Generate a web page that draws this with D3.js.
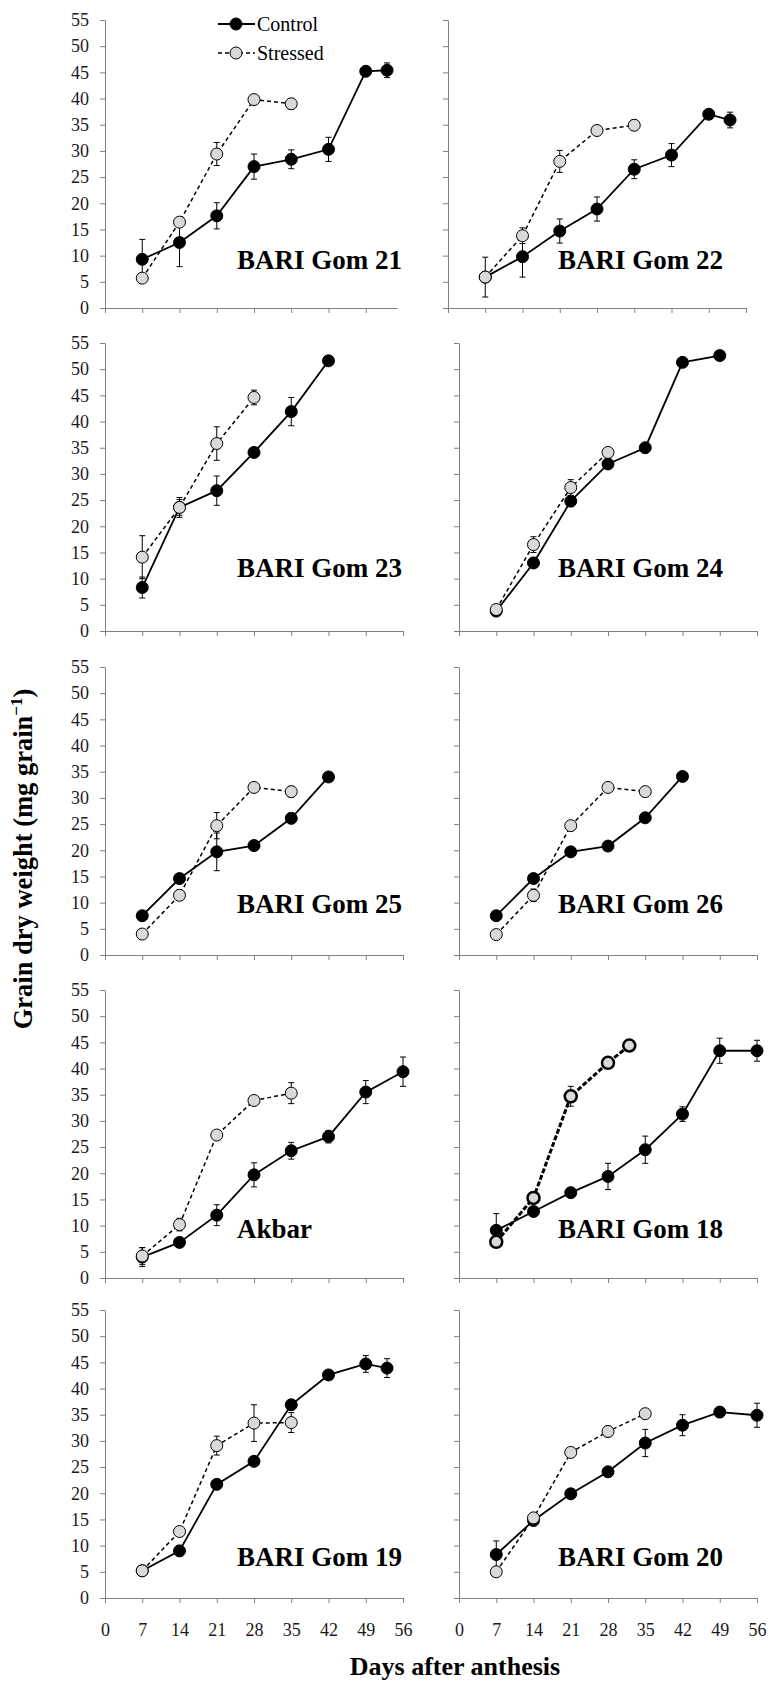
<!DOCTYPE html>
<html><head><meta charset="utf-8">
<script src="https://cdn.jsdelivr.net/npm/d3@7"></script>
<style>body{margin:0;background:#fff}svg{display:block}</style>
</head><body>
<svg id="chart" width="769" height="1682"></svg>
<script>
// ---------- DATA ----------
const panelNames = ["BARI Gom 21","BARI Gom 22","BARI Gom 23","BARI Gom 24","BARI Gom 25","BARI Gom 26","Akbar","BARI Gom 18","BARI Gom 19","BARI Gom 20"];
const xTicks = [0,7,14,21,28,35,42,49,56];
const yTicks = [0,5,10,15,20,25,30,35,40,45,50,55];
const seriesNames = ["Control","Stressed"];

const controlDays = [
  [7,14,21,28,35,42,49,53],
  [7,14,21,28,35,42,49,53],
  [7,14,21,28,35,42],
  [7,14,21,28,35,42,49],
  [7,14,21,28,35,42],
  [7,14,21,28,35,42],
  [7,14,21,28,35,42,49,56],
  [7,14,21,28,35,42,49,56],
  [7,14,21,28,35,42,49,53],
  [7,14,21,28,35,42,49,56]
];
const controlValues = [
  [9.3,12.5,17.6,27.0,28.4,30.3,45.2,45.4],
  [5.9,9.8,14.7,18.9,26.5,29.2,37.0,35.9],
  [8.3,23.6,26.8,34.1,41.9,51.6],
  [3.8,13.0,24.8,31.9,35.0,51.3,52.6],
  [7.5,14.6,19.7,20.9,26.1,34.0],
  [7.5,14.6,19.7,20.8,26.2,34.1],
  [4.0,6.8,12.0,19.7,24.3,27.0,35.5,39.4],
  [9.1,12.7,16.3,19.4,24.5,31.3,43.4,43.4],
  [5.2,9.0,21.7,26.1,36.9,42.6,44.7,43.9],
  [8.3,14.8,19.9,24.1,29.6,33.0,35.5,34.9]
];
const controlErrors = [
  [3.8,4.6,2.5,2.4,1.8,2.3,0.4,1.4],
  [3.8,3.9,2.3,2.3,1.8,2.2,0.5,1.5],
  [2.0,1.5,2.8,0.5,2.7,0.8],
  [0.5,0.8,1.0,0.5,0.5,0.5,0.5],
  [0.3,0.5,3.6,0.5,1.0,0.3],
  [0.3,0.3,0.3,0.3,0.3,0.3],
  [1.8,0.8,2.0,2.3,1.6,1.2,2.2,2.8],
  [3.2,0.6,0.5,2.5,2.6,1.4,2.4,2.0],
  [0.3,1.0,0.5,0.5,0.5,0.8,1.6,1.8],
  [2.6,1.0,0.4,0.4,2.6,2.0,1.0,2.3]
];
const stressedDays = [
  [7,14,21,28,35],
  [7,14,21,28,35],
  [7,14,21,28],
  [7,14,21,28],
  [7,14,21,28,35],
  [7,14,21,28,35],
  [7,14,21,28,35],
  [7,14,21,28,32],
  [7,14,21,28,35],
  [7,14,21,28,35]
];
const stressedValues = [
  [5.7,16.4,29.4,39.8,39.0],
  [5.9,13.8,28.0,33.9,34.9],
  [14.1,23.6,35.8,44.6],
  [4.1,16.5,27.4,34.1],
  [4.0,11.4,24.7,32.0,31.2],
  [3.9,11.4,24.7,32.0,31.2],
  [4.2,10.2,27.3,33.9,35.3],
  [6.9,15.3,34.7,41.1,44.4],
  [5.2,12.7,29.1,33.4,33.5],
  [5.0,15.3,27.8,31.8,35.2]
];
const stressedErrors = [
  [0.6,0.8,2.2,0.6,1.0],
  [1.0,1.5,2.1,0.8,1.0],
  [4.1,1.9,3.2,1.4],
  [0.8,1.5,1.5,0.5],
  [0.4,1.0,2.5,0.4,1.0],
  [0.3,1.2,0.3,0.3,0.3],
  [1.6,1.2,0.8,0.5,2.0],
  [0.5,0.8,1.9,0.6,0.6],
  [0.3,0.5,1.8,3.5,1.9],
  [0.3,0.5,0.4,1.0,0.4]
];
// title vertical position (in y units) per row
const titleLevel = [7.4,10.4,8.0,7.7,6.1];

// ---------- LAYOUT / STYLE ----------
const rowTop = [20,343,667,990,1310];
const plotH = 288, plotW = 298;
const colLeftFirstRow = [105,448];
const colLeft = [105,459];
const titleX = [237,558];
const serif = "'Liberation Serif','Times New Roman',serif";
const axisColor = "#808080";
const styles = {
  Control: {dash:null, lw:1.8, fill:"#000", stroke:"#000", sw:1},
  Stressed: {dash:"4,3", lw:1.5, fill:"#d9d9d9", stroke:"#000", sw:1}
};
const boldStressed = {"BARI Gom 18": true};
const R = 6;

const svg = d3.select("#chart");
svg.append("rect").attr("width",769).attr("height",1682).attr("fill","#fff");

function drawSeries(g, x, y, days, vals, errs, st) {
  const pts = days.map((d,k)=>({d, v: vals[k], e: errs[k]}));
  const line = d3.line().x(p=>x(p.d)).y(p=>y(p.v));
  g.append("path").datum(pts).attr("d", line).attr("fill","none")
    .attr("stroke","#000").attr("stroke-width", st.lw)
    .attr("stroke-dasharray", st.dash);
  const eb = g.append("g").attr("stroke","#000").attr("stroke-width",1);
  pts.forEach(p => {
    if (!p.e) return;
    const cx = x(p.d), y1 = y(p.v + p.e), y2 = y(p.v - p.e);
    eb.append("line").attr("x1",cx).attr("x2",cx).attr("y1",y1).attr("y2",y2);
    eb.append("line").attr("x1",cx-3).attr("x2",cx+3).attr("y1",y1).attr("y2",y1);
    eb.append("line").attr("x1",cx-3).attr("x2",cx+3).attr("y1",y2).attr("y2",y2);
  });
  g.append("g").selectAll("circle").data(pts).join("circle")
    .attr("cx", p=>x(p.d)).attr("cy", p=>y(p.v)).attr("r", R)
    .attr("fill", st.fill).attr("stroke", st.stroke).attr("stroke-width", st.sw);
}

panelNames.forEach((name, i) => {
  const row = Math.floor(i/2), col = i % 2;
  const left = row === 0 ? colLeftFirstRow[col] : colLeft[col];
  const top = rowTop[row];
  const x = d3.scaleLinear().domain([0,56]).range([0,plotW]);
  const y = d3.scaleLinear().domain([0,55]).range([plotH,0]);
  const g = svg.append("g").attr("transform", `translate(${left},${top})`);

  // first panel's x axis is a little shorter (ends before 56)
  const shortAxis = (i === 0);
  const xa_scale = shortAxis ? d3.scaleLinear().domain([0,54.9]).range([0, x(54.9)]) : x;
  const xa_ticks = shortAxis ? xTicks.filter(t => t <= 54.9) : xTicks;

  const yAxis = d3.axisLeft(y).tickValues(yTicks).tickSize(5).tickSizeOuter(0).tickPadding(11);
  if (col === 1) yAxis.tickFormat(() => "");
  const xAxis = d3.axisBottom(xa_scale).tickValues(xa_ticks).tickSize(5).tickSizeOuter(0).tickPadding(20);
  if (row !== 4) xAxis.tickFormat(() => "");

  const ya = g.append("g").call(yAxis);
  const xa = g.append("g").attr("transform", `translate(0,${plotH})`).call(xAxis);
  [ya, xa].forEach(a => {
    a.select(".domain").attr("stroke", axisColor);
    a.selectAll(".tick line").attr("stroke", axisColor);
    a.selectAll("text").attr("font-family", serif).attr("font-size", 18).attr("fill", "#1a1a1a");
  });

  // series
  drawSeries(g, x, y, controlDays[i], controlValues[i], controlErrors[i], styles.Control);
  const sst = boldStressed[name]
    ? Object.assign({}, styles.Stressed, {lw: 3, sw: 2.5, dash: "5,2"})
    : styles.Stressed;
  drawSeries(g, x, y, stressedDays[i], stressedValues[i], stressedErrors[i], sst);

  // title
  g.append("text").attr("x", titleX[col] - left).attr("y", y(titleLevel[row]))
    .attr("font-family", serif).attr("font-weight", "bold").attr("font-size", 27)
    .attr("fill", "#000").text(name);

  // legend in first panel
  if (i === 0) {
    const lg = svg.append("g");
    seriesNames.forEach((s, k) => {
      const st = styles[s];
      const ly = 24 + k * 29;
      lg.append("line").attr("x1", 218).attr("x2", 255).attr("y1", ly).attr("y2", ly)
        .attr("stroke", "#000").attr("stroke-width", st.lw).attr("stroke-dasharray", st.dash);
      lg.append("circle").attr("cx", 236).attr("cy", ly).attr("r", R)
        .attr("fill", st.fill).attr("stroke", st.stroke).attr("stroke-width", st.sw);
      lg.append("text").attr("x", 257).attr("y", ly + 7)
        .attr("font-family", serif).attr("font-size", 20).attr("fill", "#000").text(s);
    });
  }
});

// axis titles
const yt = svg.append("text")
  .attr("transform", "translate(32,859) rotate(-90)")
  .attr("text-anchor", "middle")
  .attr("font-family", serif).attr("font-weight", "bold").attr("font-size", 26.5).attr("fill", "#000");
yt.append("tspan").text("Grain dry weight (mg grain");
yt.append("tspan").attr("font-size", 17).attr("dy", -10).text("−1");
yt.append("tspan").attr("dy", 10).text(")");

svg.append("text").attr("x", 455).attr("y", 1675).attr("text-anchor", "middle")
  .attr("font-family", serif).attr("font-weight", "bold").attr("font-size", 26).attr("fill", "#000")
  .text("Days after anthesis");
</script>
</body></html>
